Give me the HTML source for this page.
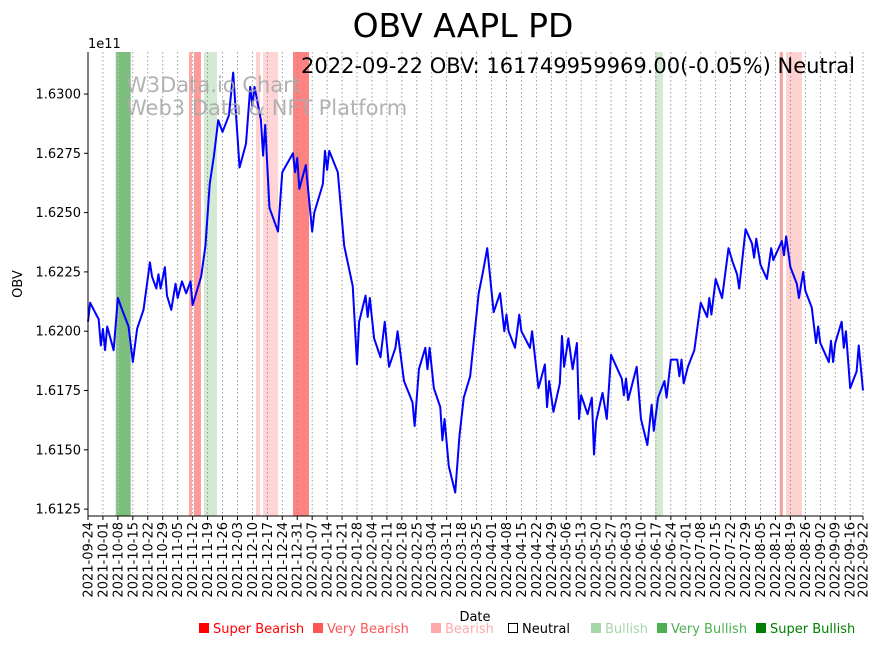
<!DOCTYPE html>
<html><head><meta charset="utf-8"><style>
html,body{margin:0;padding:0;background:#fff;}
svg{display:block;font-family:"DejaVu Sans","Liberation Sans",sans-serif;}
</style></head><body>
<svg id="chart" width="882" height="646" viewBox="0 0 882 646">
<rect x="0" y="0" width="882" height="646" fill="#fff"/>
<g id="bands"></g>
<g id="grid"></g>
<g id="series"></g>
<g id="axes"></g>
<text x="463" y="37" font-size="33" text-anchor="middle" fill="#000">OBV AAPL PD</text>
<text x="855" y="73" font-size="21" text-anchor="end" fill="#000">2022-09-22 OBV: 161749959969.00(-0.05%) Neutral</text>
<text x="126" y="92" font-size="21" fill="#aaa" fill-opacity="0.9">W3Data.io Chart</text>
<text x="126" y="115" font-size="21" fill="#aaa" fill-opacity="0.9">Web3 Data &amp; NFT Platform</text>
<text x="88" y="48" font-size="13" fill="#000">1e11</text>
<text transform="translate(22,284) rotate(-90)" font-size="13" text-anchor="middle" fill="#000">OBV</text>
<text x="475" y="621" font-size="13" text-anchor="middle" fill="#000">Date</text>
<g id="legend" font-size="13">
<g><rect x="199" y="623" width="10" height="10" fill="#ff0000"/><text x="213" y="633" fill="#ff0000">Super Bearish</text></g>
<g><rect x="313" y="623" width="10" height="10" fill="#ff5555"/><text x="327" y="633" fill="#ff5555">Very Bearish</text></g>
<g><rect x="431" y="623" width="10" height="10" fill="#ffaaaa"/><text x="445" y="633" fill="#ffaaaa">Bearish</text></g>
<g><rect x="508.5" y="623.5" width="9" height="9" fill="none" stroke="#000"/><text x="522" y="633" fill="#000">Neutral</text></g>
<g><rect x="591" y="623" width="10" height="10" fill="#a5d6a7"/><text x="605" y="633" fill="#a5d6a7">Bullish</text></g>
<g><rect x="657" y="623" width="10" height="10" fill="#4caf50"/><text x="671" y="633" fill="#4caf50">Very Bullish</text></g>
<g><rect x="756" y="623" width="10" height="10" fill="#008000"/><text x="770" y="633" fill="#008000">Super Bullish</text></g>
</g>
</svg>
<script>
// day offsets from 2021-09-24
const days = [0,1,5,6,7,8,9,12,14,16,19,21,23,26,29,30,32,33,34,36,37,39,41,42,44,46,48,49,51,53,55,57,59,61,63,66,68,71,74,76,77,78,81,82,83,85,89,91,96,97,98,99,102,105,106,110,111,112,113,117,120,124,126,127,130,131,132,134,137,139,141,144,145,148,152,153,155,158,159,160,162,165,166,167,169,172,174,176,179,183,185,187,190,193,195,196,197,200,202,203,207,208,211,214,215,216,218,221,222,223,225,227,229,230,231,234,236,237,238,241,243,245,250,251,252,253,255,257,258,259,262,264,265,267,270,271,273,276,277,278,279,281,284,287,290,291,292,294,297,300,302,304,305,308,311,312,313,315,318,320,321,325,326,327,329,332,333,335,336,339,341,342,343,347,348,349,350,353,354,355,357,360,361,363];
// OBV in billions
const obv = [162.04,162.12,162.05,161.94,162.01,161.92,162.02,161.92,162.14,162.09,162.02,161.87,162.01,162.09,162.29,162.23,162.18,162.24,162.18,162.27,162.15,162.09,162.20,162.14,162.21,162.16,162.21,162.11,162.17,162.23,162.36,162.62,162.74,162.89,162.84,162.91,163.09,162.69,162.79,163.03,162.95,163.03,162.89,162.74,162.87,162.52,162.42,162.67,162.75,162.67,162.73,162.60,162.70,162.42,162.50,162.62,162.76,162.68,162.76,162.67,162.36,162.19,161.86,162.04,162.15,162.06,162.14,161.97,161.89,162.04,161.85,161.93,162.00,161.79,161.70,161.60,161.84,161.93,161.84,161.93,161.76,161.68,161.54,161.63,161.43,161.32,161.56,161.72,161.81,162.16,162.25,162.35,162.08,162.16,162.00,162.07,162.00,161.93,162.07,162.00,161.93,162.00,161.76,161.86,161.68,161.79,161.66,161.78,161.98,161.85,161.97,161.84,161.95,161.63,161.73,161.65,161.72,161.48,161.62,161.74,161.63,161.90,161.80,161.73,161.80,161.71,161.78,161.85,161.74,161.63,161.52,161.69,161.58,161.72,161.79,161.72,161.88,161.88,161.81,161.88,161.78,161.85,161.92,162.12,162.06,162.14,162.07,162.22,162.14,162.35,162.29,162.24,162.18,162.43,162.37,162.31,162.39,162.28,162.22,162.35,162.30,162.38,162.32,162.40,162.27,162.20,162.14,162.25,162.17,162.10,161.95,162.02,161.95,161.87,161.96,161.87,161.95,162.04,161.93,162.00,161.76,161.83,161.94,161.75];
const bandStart = [13,14.5,47.3,49.6,54.3,78.7,82,96,265.6,324,327];
const bandEnd = [14.5,20,48.7,52.9,60.4,80.6,89,103.5,269.3,325.5,334.4];
const bandColor = ['#8cc98c','#7dbd7d','#ffa6a6','#ff9a9a','#d3e9d3','#ffcfcf','#ffd4d4','#ff8282','#d3e9d3','#f8a3a3','#ffd2d2'];
const yTicks = [161.25,161.50,161.75,162.00,162.25,162.50,162.75,163.00];
const yTickLabels = ['1.6125','1.6150','1.6175','1.6200','1.6225','1.6250','1.6275','1.6300'];

const NS='http://www.w3.org/2000/svg';
const L=88,R=863,T=52,B=516;
const D0=0,D1=363;
const V0=161.221,V1=163.177;
function xs(d){return L+(d-D0)/(D1-D0)*(R-L);}
function ys(v){return B-(v-V0)/(V1-V0)*(B-T);}
function mk(tag,attrs,parent){const e=document.createElementNS(NS,tag);for(const k in attrs)e.setAttribute(k,attrs[k]);parent.appendChild(e);return e;}

const bandsG=document.getElementById('bands');
for(let i=0;i<bandStart.length;i++){
  const r=mk('rect',{x:xs(bandStart[i]),y:T,width:xs(bandEnd[i])-xs(bandStart[i]),height:B-T,fill:bandColor[i]},bandsG);
  
  
}

const gridG=document.getElementById('grid');
const axesG=document.getElementById('axes');
const base=new Date(Date.UTC(2021,8,24));
const tickDays=[];
for(let d=0;d<D1;d+=7)tickDays.push(d);
tickDays.push(D1);
for(const d of tickDays){
  const x=xs(d);
  const gl=mk('line',{x1:x,x2:x,y1:T,y2:B,stroke:'#888','stroke-width':0.8,'stroke-dasharray':'1.5,2.5'},gridG);
  
  
  const tk=mk('line',{x1:x,x2:x,y1:B,y2:B+4,stroke:'#000','stroke-width':1},axesG);
  
  
  const dt=new Date(base.getTime()+d*86400000);
  const lab=dt.toISOString().slice(0,10);
  const t=mk('text',{transform:'translate('+(x+4.5)+','+(B+6)+') rotate(-90)','font-size':13,'text-anchor':'end',fill:'#000'},axesG);
  t.textContent=lab;
  
  
}
for(let i=0;i<yTicks.length;i++){
  const y=ys(yTicks[i]);
  const tk=mk('line',{x1:L-4,x2:L,y1:y,y2:y,stroke:'#000','stroke-width':1},axesG);
  
  
  const t=mk('text',{x:L-7,y:y+4.5,'font-size':13,'text-anchor':'end',fill:'#000'},axesG);
  t.textContent=yTickLabels[i];
  
  
}
const la=mk('line',{x1:L,x2:L,y1:T,y2:B,stroke:'#000','stroke-width':1},axesG);


const ba=mk('line',{x1:L,x2:R,y1:B,y2:B,stroke:'#000','stroke-width':1},axesG);



const seriesG=document.getElementById('series');
let dstr='';
for(let i=0;i<days.length;i++){dstr+=(i?'L':'M')+xs(days[i]).toFixed(2)+','+ys(obv[i]).toFixed(2);}
const p=mk('path',{d:dstr,fill:'none',stroke:'#0000ff','stroke-width':2,'stroke-linejoin':'round'},seriesG);


</script>
</body></html>
